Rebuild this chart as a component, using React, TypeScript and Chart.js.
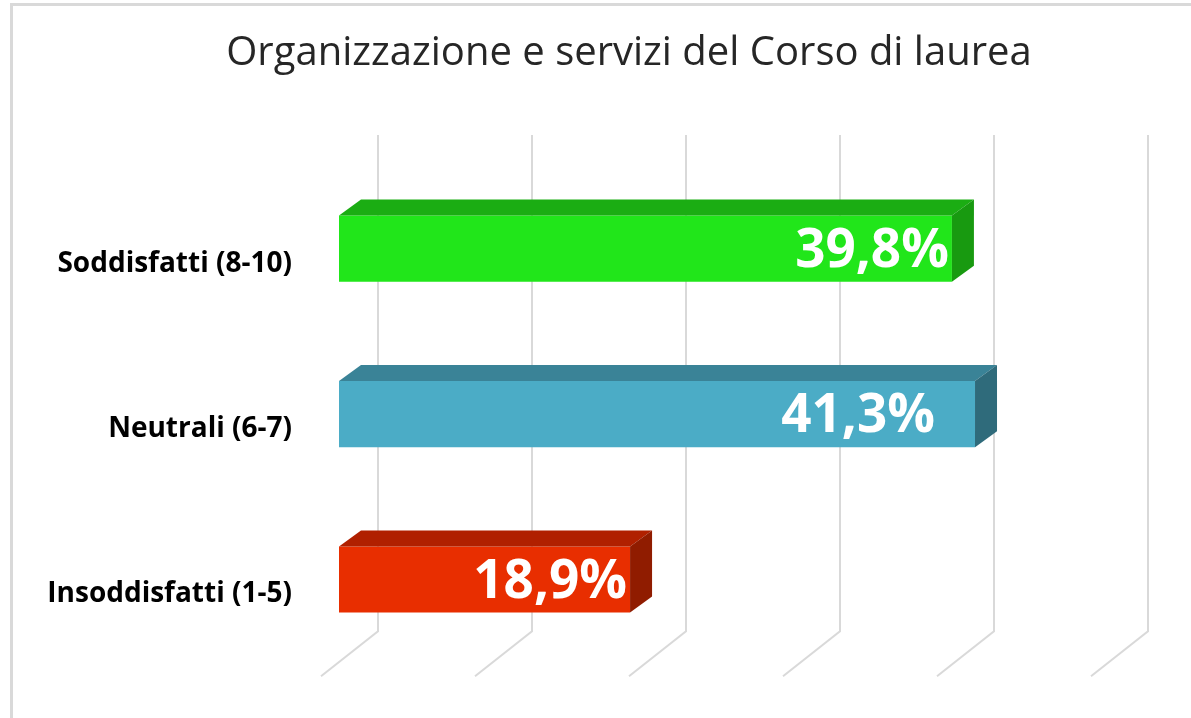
import React, { useEffect, useRef } from "react";
import { Chart, registerables } from "chart.js";

Chart.register(...registerables);

const chartTitle = "Organizzazione e servizi del Corso di laurea";
const categories = ["Soddisfatti (8-10)", "Neutrali (6-7)", "Insoddisfatti (1-5)"];
const values = [39.8, 41.3, 18.9];
const valueLabels = ["39,8%", "41,3%", "18,9%"];
const frontColors = ["#21e61a", "#4bacc6", "#e82e00"];
const topColors = ["#1bad13", "#3a8397", "#b02000"];
const sideColors = ["#189a10", "#2f6b7b", "#901c00"];
const gridValues = [0, 10, 20, 30, 40, 50];

const FONT = "'Open Sans', 'Noto Sans', sans-serif";

const threeDPlugin = {
  id: "threeD",
  beforeDraw(chart: any) {
    const ctx = chart.ctx;
    ctx.save();
    ctx.fillStyle = "#ffffff";
    ctx.fillRect(0, 0, chart.width, chart.height);
    ctx.fillStyle = "#d9d9d9";
    ctx.fillRect(10, 3, 3, chart.height - 3);
    ctx.fillRect(10, 3, chart.width - 10, 3);
    ctx.restore();
  },
  beforeDatasetsDraw(chart: any) {
    const ctx = chart.ctx;
    const xs = chart.scales.x;
    const area = chart.chartArea;
    const backDx = 39;
    const backTop = area.top - 31;
    const backBottom = area.bottom - 31;
    const frontDx = -18;
    const floorY = area.bottom + 14;
    ctx.save();
    ctx.strokeStyle = "#d9d9d9";
    ctx.lineWidth = 2;
    for (const v of gridValues) {
      const px = xs.getPixelForValue(v);
      ctx.beginPath();
      ctx.moveTo(px + backDx, backTop);
      ctx.lineTo(px + backDx, backBottom);
      ctx.lineTo(px + frontDx, floorY);
      ctx.stroke();
    }
    ctx.restore();
  },
  afterDatasetsDraw(chart: any, _args: any, opts: any) {
    const ctx = chart.ctx;
    const meta = chart.getDatasetMeta(0);
    const dx = 22;
    const dy = 16;
    ctx.save();
    meta.data.forEach((bar: any, i: number) => {
      const p = bar.getProps(["x", "y", "base", "height"], true);
      const top = p.y - p.height / 2;
      const bottom = p.y + p.height / 2;
      ctx.fillStyle = topColors[i];
      ctx.beginPath();
      ctx.moveTo(p.base, top);
      ctx.lineTo(p.base + dx, top - dy);
      ctx.lineTo(p.x + dx, top - dy);
      ctx.lineTo(p.x, top);
      ctx.closePath();
      ctx.fill();
      ctx.fillStyle = sideColors[i];
      ctx.beginPath();
      ctx.moveTo(p.x, top);
      ctx.lineTo(p.x + dx, top - dy);
      ctx.lineTo(p.x + dx, bottom - dy);
      ctx.lineTo(p.x, bottom);
      ctx.closePath();
      ctx.fill();
      ctx.fillStyle = "#ffffff";
      ctx.font = `bold 53px ${FONT}`;
      ctx.textAlign = "right";
      ctx.textBaseline = "alphabetic";
      const inset = (opts.insets && opts.insets[i]) || 4;
      ctx.fillText(valueLabels[i], p.x - inset, p.y + 18);
    });
    ctx.restore();
  },
  afterDraw(chart: any) {
    const ctx = chart.ctx;
    ctx.save();
    ctx.fillStyle = "#262626";
    ctx.font = `normal 40px ${FONT}`;
    ctx.textAlign = "center";
    ctx.textBaseline = "alphabetic";
    ctx.fillText(chartTitle, 629, 65);
    ctx.restore();
  },
};

export default function App() {
  const ref = useRef<HTMLCanvasElement | null>(null);

  useEffect(() => {
    if (!ref.current) return;
    const chart = new Chart(ref.current, {
      type: "bar",
      data: {
        labels: categories,
        datasets: [
          {
            data: values,
            backgroundColor: frontColors,
            barPercentage: 0.4,
            categoryPercentage: 1,
            borderWidth: 0,
          },
        ],
      },
      options: {
        indexAxis: "y",
        animation: false,
        responsive: true,
        maintainAspectRatio: false,
        layout: { padding: { left: 10, right: 82, top: 166, bottom: 54 } },
        plugins: {
          legend: { display: false },
          tooltip: { enabled: false },
          title: { display: false },
          threeD: { insets: [3, 40, 3] },
        } as any,
        scales: {
          x: {
            type: "linear",
            min: 0,
            max: 50,
            display: false,
            grid: { display: false },
          },
          y: {
            grid: { display: false },
            border: { display: false },
            ticks: {
              color: "#000000",
              font: { family: FONT, size: 28, weight: "bold" },
              padding: 39,
              labelOffset: 15,
            },
            afterFit: (scale: any) => {
              scale.width = 329;
            },
          },
        },
      },
      plugins: [threeDPlugin],
    });
    return () => chart.destroy();
  }, []);

  return (
    <div style={{ position: "absolute", left: 0, top: 0, width: 1191, height: 718 }}>
      <canvas ref={ref} />
    </div>
  );
}
